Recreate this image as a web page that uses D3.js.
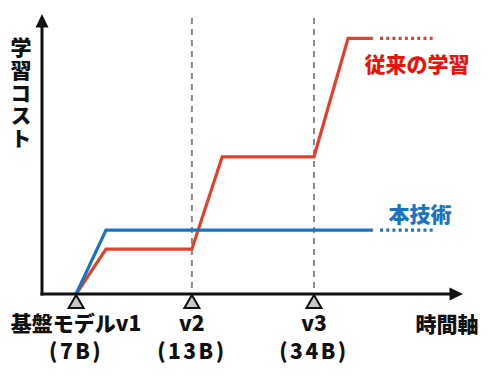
<!DOCTYPE html>
<html><head><meta charset="utf-8">
<script src="https://cdn.jsdelivr.net/npm/d3@7"></script>
<style>body{margin:0;background:#fff}svg{display:block}text{font-family:"Noto Sans CJK JP","Noto Sans",sans-serif;font-weight:900}</style>
</head><body><div id="chart"></div>
<script>
// time axis units (arbitrary), cost units (arbitrary)
const milestoneTimes = [8.1, 35.6, 64.6];
const milestoneNames = ["基盤モデルv1", "v2", "v3"];
const milestoneSizes = ["(7B)", "(13B)", "(34B)"];
const conventionalT = [8.1, 15.2, 35.6, 42.8, 64.6, 72.7, 78.6];
const conventionalCost = [0, 16, 16, 49, 49, 91.3, 91.3];
const conventionalFutureT = [80.3, 93.3];
const oursT = [8.1, 15.2, 78.6];
const oursCost = [0, 22.8, 22.8];
const oursFutureT = [80.3, 93.3];
const seriesNames = ["従来の学習", "本技術"];
const yTitle = "学習コスト";
const xTitle = "時間軸";

const W = 490, H = 376;
const svg = d3.select("#chart").append("svg").attr("width", W).attr("height", H);
const x = d3.scaleLinear().domain([0, 100]).range([42, 463]);
const y = d3.scaleLinear().domain([0, 100]).range([294, 14]);
const red = "#e2402a", redText = "#e8140e", blue = "#1a74c2", ink = "#111";

// dashed milestone lines
svg.selectAll("line.grid").data(milestoneTimes.slice(1)).join("line")
  .attr("x1", d => x(d)).attr("x2", d => x(d))
  .attr("y1", y(98.6)).attr("y2", y(0))
  .attr("stroke", "#8a8a8a").attr("stroke-width", 2).attr("stroke-dasharray", "6,5");

const line = d3.line().x(d => x(d[0])).y(d => y(d[1]));
// conventional
svg.append("path").datum(d3.zip(conventionalT, conventionalCost))
  .attr("d", line).attr("fill", "none").attr("stroke", red).attr("stroke-width", 3.2).attr("stroke-linejoin", "miter");
svg.append("path").datum(conventionalFutureT.map(t => [t, conventionalCost[conventionalCost.length - 1]]))
  .attr("d", line).attr("fill", "none").attr("stroke", red).attr("stroke-width", 3.2).attr("stroke-dasharray", "3,3.2");
// ours
svg.append("path").datum(d3.zip(oursT, oursCost))
  .attr("d", line).attr("fill", "none").attr("stroke", blue).attr("stroke-width", 3.2);
svg.append("path").datum(oursFutureT.map(t => [t, oursCost[oursCost.length - 1]]))
  .attr("d", line).attr("fill", "none").attr("stroke", blue).attr("stroke-width", 3.2).attr("stroke-dasharray", "3,3.2");

// axes
const x0 = x(0), y0 = y(0);
svg.append("line").attr("x1", x0).attr("x2", x0).attr("y1", y0 + 1.5).attr("y2", y(96)).attr("stroke", ink).attr("stroke-width", 3);
svg.append("path").attr("d", `M${x0},${y(100)} L${x0 - 6.5},${y(95.2)} L${x0 + 6.5},${y(95.2)} Z`).attr("fill", ink);
svg.append("line").attr("x1", x0 - 1.5).attr("x2", x(97)).attr("y1", y0).attr("y2", y0).attr("stroke", ink).attr("stroke-width", 3);
svg.append("path").attr("d", `M${x(100)},${y0} L${x(96.8)},${y0 - 6.5} L${x(96.8)},${y0 + 6.5} Z`).attr("fill", ink);

// milestone triangles
svg.selectAll("path.tri").data(milestoneTimes).join("path")
  .attr("d", d => `M${x(d)},${y0 + 1} L${x(d) - 7.5},${y0 + 14} L${x(d) + 7.5},${y0 + 14} Z`)
  .attr("fill", "#c8c8c8").attr("stroke", ink).attr("stroke-width", 2).attr("stroke-linejoin", "miter");

// milestone labels
svg.selectAll("text.ml").data(milestoneNames).join("text")
  .attr("class", "ml")
  .attr("x", (d, i) => x(milestoneTimes[i])).attr("y", 331)
  .attr("text-anchor", "middle")
  .attr("font-size", 21).attr("fill", ink).text(d => d);
svg.selectAll("text.ms").data(milestoneSizes).join("text")
  .attr("class", "ms")
  .attr("x", (d, i) => x(milestoneTimes[i])).attr("y", 359)
  .attr("text-anchor", "middle")
  .attr("font-family", "Lato, sans-serif").attr("font-weight", "bold")
  .attr("font-size", 21).attr("letter-spacing", 2.5).attr("fill", ink).text(d => d);

// axis titles
svg.append("text").attr("x", 447).attr("y", 323).attr("text-anchor", "middle").attr("dominant-baseline", "central")
  .attr("font-size", 21).attr("fill", ink).text(xTitle);
svg.append("text").attr("x", 21).attr("y", 37)
  .attr("style", "writing-mode: vertical-rl; text-orientation: upright;")
  .attr("letter-spacing", 1.6)
  .attr("font-size", 21).attr("fill", ink).text(yTitle);

// series labels
svg.append("text").attr("x", 417).attr("y", 63).attr("text-anchor", "middle").attr("dominant-baseline", "central")
  .attr("font-size", 21).attr("fill", redText).text(seriesNames[0]);
svg.append("text").attr("x", 420).attr("y", 213).attr("text-anchor", "middle").attr("dominant-baseline", "central")
  .attr("font-size", 21).attr("fill", blue).text(seriesNames[1]);
</script></body></html>
